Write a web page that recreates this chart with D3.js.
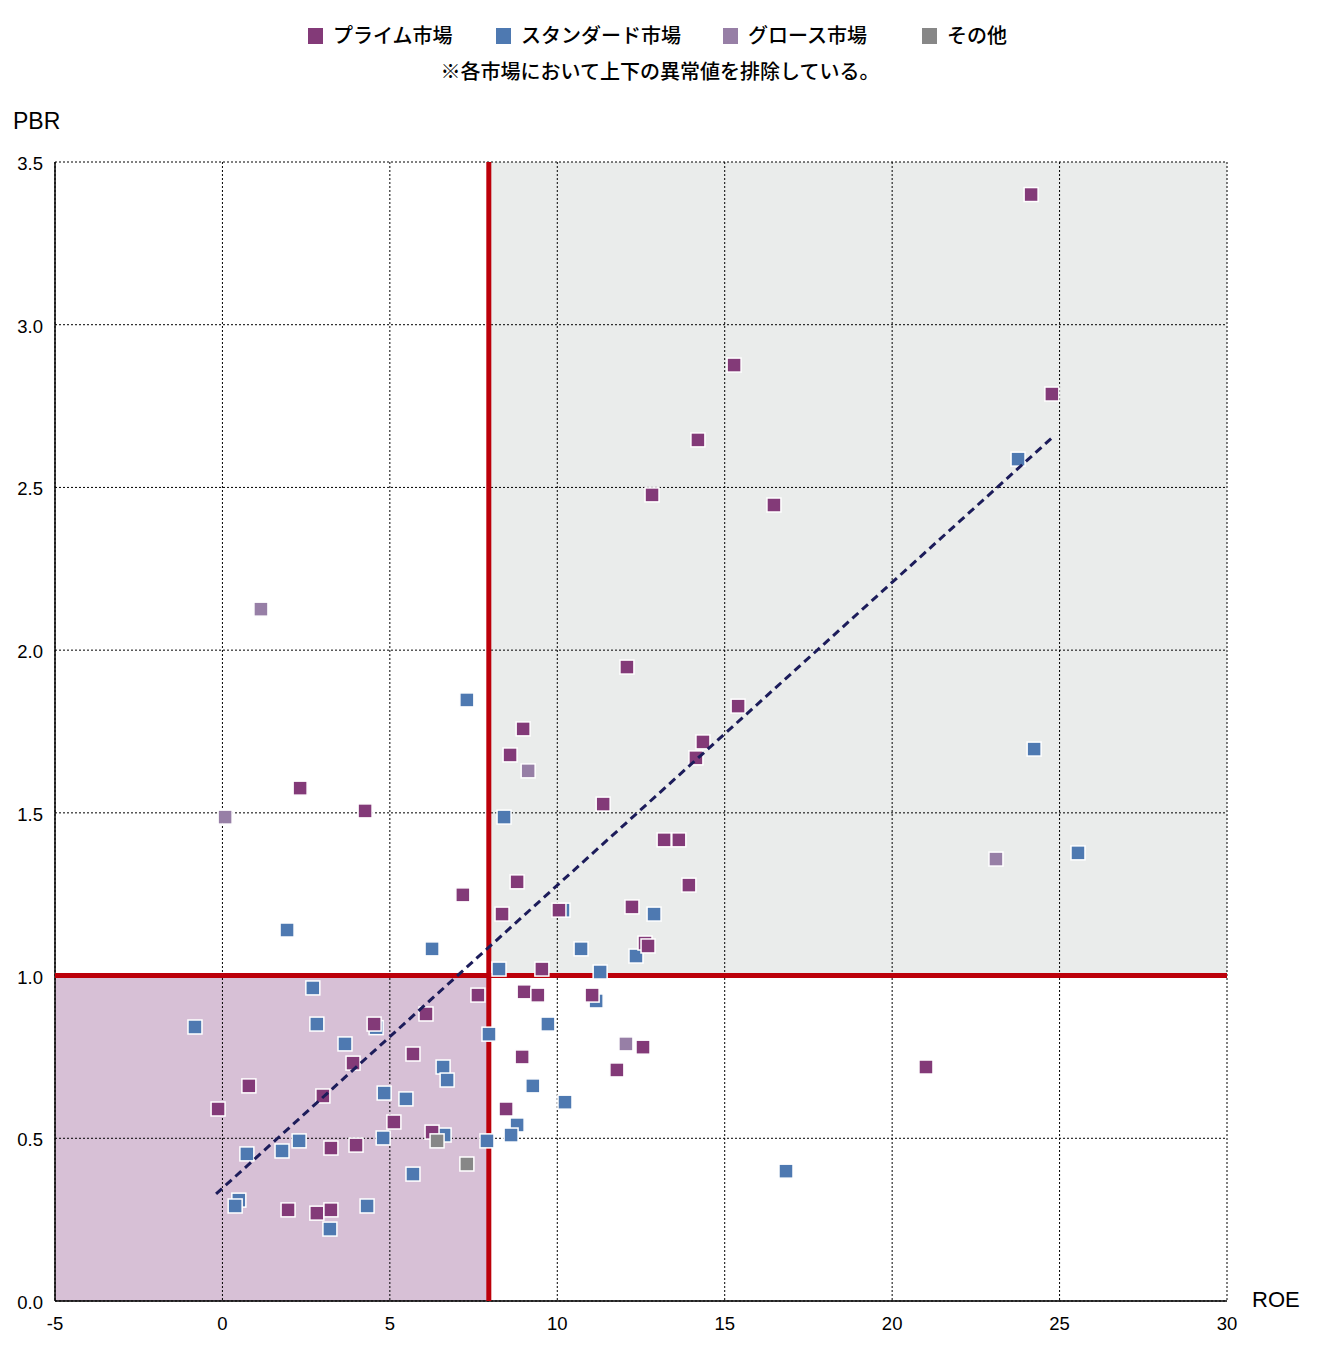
<!DOCTYPE html>
<html><head><meta charset="utf-8">
<script src="https://cdn.jsdelivr.net/npm/d3@7"></script>
<style>body{margin:0;background:#fff}svg{display:block}</style>
</head><body>
<svg id="c" width="1330" height="1356"></svg>
<script>
const seriesNames = ["プライム市場","スタンダード市場","グロース市場","その他"];
const seriesColors = ["#833A78","#4E79B1","#977FA6","#878787"];
const prime = [[24.15,3.40],[15.28,2.876],[24.77,2.787],[14.20,2.646],[12.83,2.477],[16.47,2.446],[12.08,1.948],[15.40,1.828],[14.35,1.718],[14.14,1.669],[8.98,1.758],[8.59,1.678],[2.32,1.576],[4.26,1.506],[11.37,1.527],[13.19,1.417],[13.63,1.417],[13.93,1.278],[8.80,1.288],[7.18,1.248],[8.35,1.189],[10.05,1.201],[12.23,1.211],[12.62,1.100],[12.71,1.091],[9.54,1.020],[7.63,0.940],[9.01,0.950],[9.42,0.940],[11.04,0.940],[6.08,0.882],[4.53,0.851],[5.69,0.759],[3.90,0.731],[0.79,0.661],[3.00,0.630],[8.95,0.750],[12.56,0.780],[11.78,0.710],[21.01,0.719],[-0.13,0.590],[8.47,0.590],[5.12,0.550],[6.26,0.519],[3.99,0.479],[3.24,0.470],[1.96,0.280],[2.82,0.270],[3.24,0.280]];
const standard = [[23.76,2.587],[24.24,1.696],[25.55,1.377],[7.30,1.847],[8.41,1.487],[1.93,1.140],[6.26,1.082],[12.89,1.189],[10.17,1.201],[10.71,1.082],[12.35,1.060],[11.28,1.011],[8.26,1.020],[11.16,0.922],[2.70,0.962],[-0.82,0.842],[2.82,0.851],[9.72,0.851],[7.96,0.820],[3.66,0.790],[6.59,0.719],[6.71,0.679],[9.27,0.661],[4.83,0.639],[5.48,0.621],[10.23,0.611],[8.80,0.541],[8.62,0.510],[6.62,0.510],[4.80,0.501],[2.29,0.492],[7.90,0.492],[1.78,0.461],[0.73,0.452],[5.69,0.390],[16.83,0.399],[0.49,0.310],[0.38,0.292],[4.32,0.292],[3.21,0.221],[4.59,0.840]];
const growth = [[1.15,2.126],[0.08,1.487],[9.13,1.629],[23.10,1.358],[12.05,0.790]];
const other = [[6.41,0.492],[7.30,0.421]];
const trend = [[-0.19,0.329],[24.80,2.655]];
const roeThreshold = 8, pbrThreshold = 1.0;
const xTicks = [-5,0,5,10,15,20,25,30];
const yTicks = [0,0.5,1.0,1.5,2.0,2.5,3.0,3.5];
const xDomain = [-5,30], yDomain = [0,3.5];

const svg = d3.select("#c");
const m = {l:55, r:1227, t:162, b:1301};
const x = d3.scaleLinear().domain(xDomain).range([m.l, m.r]);
const y = d3.scaleLinear().domain(yDomain).range([m.b, m.t]);
const font = "'Liberation Sans', Arial, sans-serif";
const jp = "'Noto Sans CJK JP', sans-serif";

// shaded quadrants
svg.append("rect").attr("x", x(xDomain[0])).attr("y", y(pbrThreshold))
  .attr("width", x(roeThreshold)-x(xDomain[0])).attr("height", y(0)-y(pbrThreshold)).attr("fill","#D7C0D6");
svg.append("rect").attr("x", x(roeThreshold)).attr("y", y(yDomain[1]))
  .attr("width", x(xDomain[1])-x(roeThreshold)).attr("height", y(pbrThreshold)-y(yDomain[1])).attr("fill","#EAECEB");

// grid
const g = svg.append("g");
g.selectAll(".vx").data(xTicks).join("line")
  .attr("x1", d=>x(d)).attr("x2", d=>x(d)).attr("y1", m.t).attr("y2", m.b)
  .attr("stroke","#000").attr("stroke-width",1).attr("stroke-dasharray","2,2");
g.selectAll(".hy").data(yTicks).join("line")
  .attr("y1", d=>y(d)).attr("y2", d=>y(d)).attr("x1", m.l).attr("x2", m.r)
  .attr("stroke","#000").attr("stroke-width",1).attr("stroke-dasharray","2,2");
// solid axes
svg.append("line").attr("x1",m.l).attr("x2",m.l).attr("y1",m.t).attr("y2",m.b).attr("stroke","#000").attr("stroke-width",1.5);
svg.append("line").attr("x1",m.l).attr("x2",m.r).attr("y1",m.b).attr("y2",m.b).attr("stroke","#000").attr("stroke-width",1.5);

// threshold lines
svg.append("line").attr("x1",x(roeThreshold)-1.5).attr("x2",x(roeThreshold)-1.5).attr("y1",m.t).attr("y2",m.b)
  .attr("stroke","#BC000A").attr("stroke-width",5);
svg.append("line").attr("x1",m.l).attr("x2",m.r).attr("y1",y(pbrThreshold)).attr("y2",y(pbrThreshold))
  .attr("stroke","#BC000A").attr("stroke-width",5);

// tick labels
svg.selectAll(".xt").data(xTicks).join("text")
  .attr("x", d=>x(d)).attr("y", 1330).attr("text-anchor","middle")
  .attr("font-family",font).attr("font-size",18.5).attr("fill","#000").text(d=>d);
svg.selectAll(".yt").data(yTicks).join("text")
  .attr("x", 43).attr("y", d=>y(d)+8).attr("text-anchor","end")
  .attr("font-family",font).attr("font-size",18.5).attr("fill","#000").text(d=>d.toFixed(1));
svg.append("text").attr("x",13).attr("y",129).attr("font-family",font).attr("font-size",23).text("PBR");
svg.append("text").attr("x",1252).attr("y",1307).attr("font-family",font).attr("font-size",22).text("ROE");

// points
const s = 14;
function drawSeries(data, color){
  svg.append("g").selectAll("rect").data(data).join("rect")
    .attr("x", d=>x(d[0])-s/2).attr("y", d=>y(d[1])-s/2)
    .attr("width", s).attr("height", s)
    .attr("fill", color).attr("stroke","#fff").attr("stroke-width",1.5);
}
drawSeries(standard, seriesColors[1]);
drawSeries(prime, seriesColors[0]);
drawSeries(growth, seriesColors[2]);
drawSeries(other, seriesColors[3]);

// trend line
svg.append("path").datum(trend)
  .attr("d", d3.line().x(d=>x(d[0])).y(d=>y(d[1])))
  .attr("stroke","#1C1C5A").attr("stroke-width",3).attr("stroke-dasharray","8,5").attr("fill","none");

// legend
const legX = [308, 496, 723, 922];
const lg = svg.append("g");
seriesNames.forEach((n,i)=>{
  lg.append("rect").attr("x",legX[i]).attr("y",28).attr("width",15).attr("height",16).attr("fill",seriesColors[i]);
  lg.append("text").attr("x",legX[i]+25).attr("y",43).attr("font-family",jp).attr("font-size",20).attr("font-weight",500).attr("fill","#000").text(n);
});
svg.append("text").attr("x",660).attr("y",79).attr("text-anchor","middle").attr("font-family",jp).attr("font-size",20).attr("font-weight",500)
  .text("※各市場において上下の異常値を排除している。");
</script>
</body></html>
